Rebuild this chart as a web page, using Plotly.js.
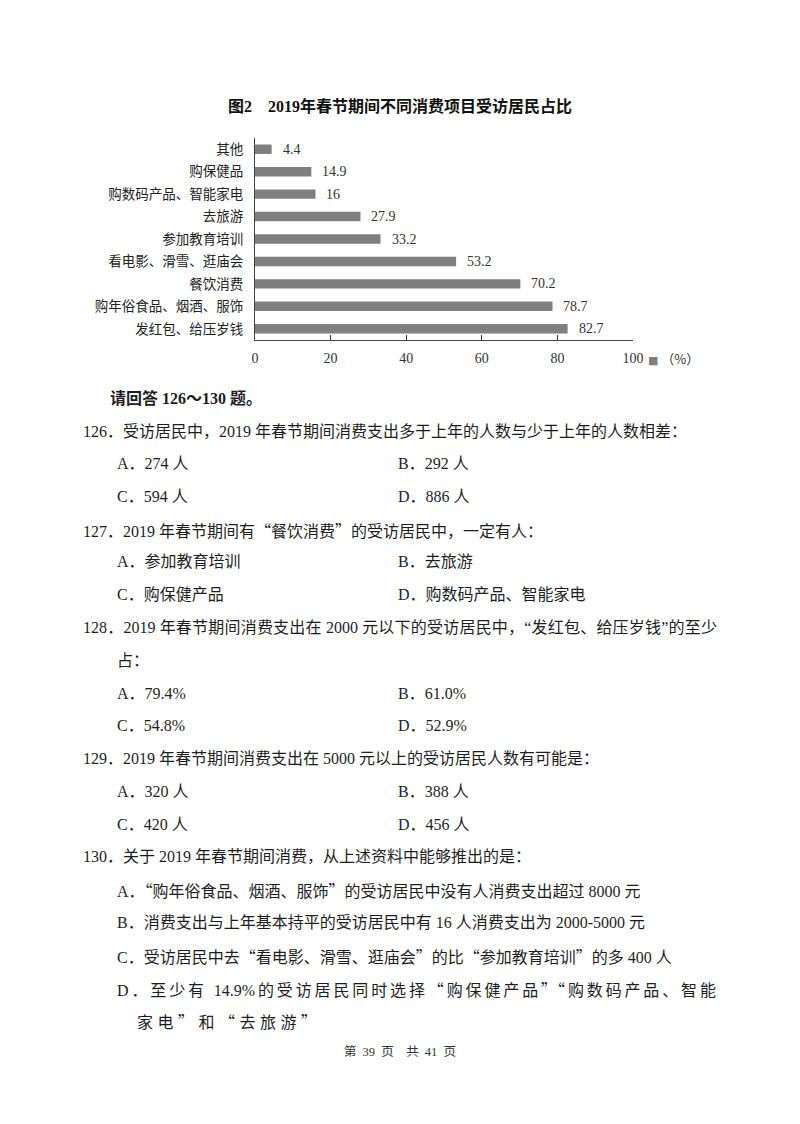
<!DOCTYPE html>
<html><head><meta charset="utf-8">
<script src="https://cdn.plot.ly/plotly-3.0.1.min.js"></script>
<style>
body{margin:0;background:#fff;width:800px;height:1124px;position:relative;overflow:hidden;}
#chart{position:absolute;left:0;top:0;width:800px;height:380px;}
.t{position:absolute;font-family:"Liberation Serif","Noto Sans CJK SC",serif;font-size:16px;line-height:20px;color:#1e1e1e;white-space:nowrap;}
.j{white-space:normal;text-align:justify;text-align-last:justify;}
.q{font-family:"Noto Sans CJK SC";}
.b{font-weight:bold;font-family:"Liberation Serif","Noto Sans CJK SC";}
</style></head><body>
<div id="chart"></div>

<div class="t b" style="top:389px;left:110px;">请回答 126～130 题。</div>
<div class="t" style="top:422px;left:83px;">126．受访居民中，2019 年春节期间消费支出多于上年的人数与少于上年的人数相差：</div>
<div class="t" style="top:454px;left:117px;">A．274 人</div>
<div class="t" style="top:454px;left:398px;">B．292 人</div>
<div class="t" style="top:487px;left:117px;">C．594 人</div>
<div class="t" style="top:487px;left:398px;">D．886 人</div>
<div class="t" style="top:520px;left:83px;">127．2019 年春节期间有<span class="q">“</span>餐饮消费<span class="q">”</span>的受访居民中，一定有人：</div>
<div class="t" style="top:552px;left:117px;">A．参加教育培训</div>
<div class="t" style="top:552px;left:398px;">B．去旅游</div>
<div class="t" style="top:585px;left:117px;">C．购保健产品</div>
<div class="t" style="top:585px;left:398px;">D．购数码产品、智能家电</div>
<div class="t j" style="top:618px;left:83px;width:634px;">128．2019 年春节期间消费支出在 2000 元以下的受访居民中，“发红包、给压岁钱”的至少</div>
<div class="t" style="top:651px;left:117px;">占：</div>
<div class="t" style="top:684px;left:117px;">A．79.4%</div>
<div class="t" style="top:684px;left:398px;">B．61.0%</div>
<div class="t" style="top:716px;left:117px;">C．54.8%</div>
<div class="t" style="top:716px;left:398px;">D．52.9%</div>
<div class="t" style="top:749px;left:83px;">129．2019 年春节期间消费支出在 5000 元以上的受访居民人数有可能是：</div>
<div class="t" style="top:782px;left:117px;">A．320 人</div>
<div class="t" style="top:782px;left:398px;">B．388 人</div>
<div class="t" style="top:815px;left:117px;">C．420 人</div>
<div class="t" style="top:815px;left:398px;">D．456 人</div>
<div class="t" style="top:847px;left:83px;">130．关于 2019 年春节期间消费，从上述资料中能够推出的是：</div>
<div class="t" style="top:880px;left:117px;">A．<span class="q">“</span>购年俗食品、烟酒、服饰<span class="q">”</span>的受访居民中没有人消费支出超过 8000 元</div>
<div class="t" style="top:913px;left:117px;">B．消费支出与上年基本持平的受访居民中有 16 人消费支出为 2000-5000 元</div>
<div class="t" style="top:946px;left:117px;">C．受访居民中去<span class="q">“</span>看电影、滑雪、逛庙会<span class="q">”</span>的比<span class="q">“</span>参加教育培训<span class="q">”</span>的多 400 人</div>
<div class="t j" style="top:979px;left:117px;width:599px;">D．至少有 14.9%的受访居民同时选择<span class="q">“</span>购保健产品<span class="q">”“</span>购数码产品、智能</div>
<div class="t" style="top:1011px;left:137px;letter-spacing:4.5px;">家电<span class="q">”</span>和<span class="q">“</span>去旅游<span class="q">”</span></div>
<div class="t" style="top:1042px;left:0;width:800px;text-align:center;font-size:12.5px;word-spacing:3px;color:#333;">第 39 页　共 41 页</div>

<script>
const categories = ["其他","购保健品","购数码产品、智能家电","去旅游","参加教育培训","看电影、滑雪、逛庙会","餐饮消费","购年俗食品、烟酒、服饰","发红包、给压岁钱"];
const values = [4.4,14.9,16,27.9,33.2,53.2,70.2,78.7,82.7];
const xTickVals = [0,20,40,60,80,100];
const xTickText = ["0","20","40","60","80","100"];
const titleText = "图2　2019年春节期间不同消费项目受访居民占比";
const unitLabel = "（%）";

const barColor = "#7f7f7f";
const trace = {
  type: "bar",
  orientation: "h",
  x: values,
  y: categories,
  width: 0.42,
  marker: {color: barColor},
  hoverinfo: "none",
  showlegend: false
};

const valueAnnotations = values.map((v, i) => ({
  x: v, y: categories[i], xref: "x", yref: "y",
  text: String(v), showarrow: false, xanchor: "left", xshift: 9,
  font: {family: "Liberation Serif", size: 14, color: "#333"}
}));

const unitAnnotation = {
  xref: "x", x: 100, yref: "paper", y: 0,
  xanchor: "left", yanchor: "middle", xshift: 13, yshift: -18,
  showarrow: false,
  text: '<span style="color:' + barColor + ';font-size:11px;font-family:DejaVu Sans">■</span> ' + unitLabel,
  font: {family: "Noto Sans CJK SC", size: 13, color: "#333"}
};

const layout = {
  width: 800, height: 380,
  margin: {l: 255, r: 167, t: 138, b: 40},
  paper_bgcolor: "#fff", plot_bgcolor: "#fff",
  title: {
    text: titleText, xref: "container", x: 0.5, xanchor: "center",
    yref: "container", y: 1 - 106/380, yanchor: "middle",
    font: {family: "Liberation Serif, Noto Sans CJK SC", size: 16, color: "#111", weight: "bold"}
  },
  xaxis: {
    range: [0, 100], tickvals: xTickVals, ticktext: xTickText,
    ticks: "inside", ticklen: 5, tickcolor: "#333", tickwidth: 1,
    showline: true, linecolor: "#444", linewidth: 1,
    showgrid: false, zeroline: false,
    tickfont: {family: "Liberation Serif", size: 14, color: "#333"},
    ticklabelstandoff: 5
  },
  yaxis: {
    type: "category", autorange: "reversed",
    showline: true, linecolor: "#444", linewidth: 1,
    ticks: "", showgrid: false, zeroline: false,
    tickfont: {family: "Noto Sans CJK SC", size: 13.5, color: "#222"},
    ticklabelstandoff: 8
  },
  annotations: valueAnnotations.concat([unitAnnotation]),
  bargap: 0.6
};

Plotly.newPlot("chart", [trace], layout, {staticPlot: true, displayModeBar: false});
</script>
</body></html>
